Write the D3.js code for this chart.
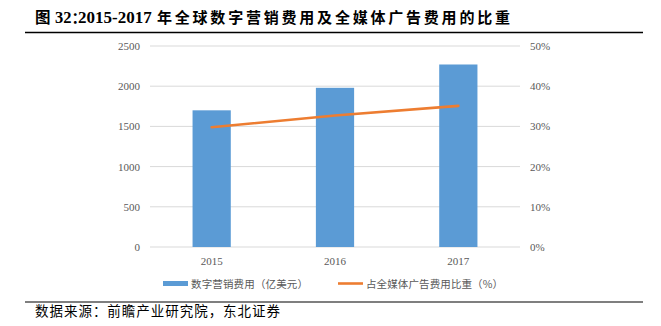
<!DOCTYPE html>
<html>
<head>
<meta charset="utf-8">
<script src="https://cdn.jsdelivr.net/npm/d3@7"></script>
<style>
  html, body { margin: 0; padding: 0; background: #fff; }
  svg { display: block; }
</style>
</head>
<body>
<svg id="chart" width="661" height="326"></svg>
<script>
// Data
const years = ["2015", "2016", "2017"];
const digitalSpend = [1700, 1980, 2270];      // 数字营销费用（亿美元）
const shareOfMedia = [0.298, 0.327, 0.351];   // 占全媒体广告费用比重
const leftTicks = [0, 500, 1000, 1500, 2000, 2500];
const rightTicks = [0, 0.1, 0.2, 0.3, 0.4, 0.5];
const titleParts = ["图", "32", "：", "2015-2017", "年全球数字营销费用及全媒体广告费用的比重"];
const sourceText = "数据来源：前瞻产业研究院，东北证券";
const legendLabels = ["数字营销费用（亿美元）", "占全媒体广告费用比重（%）"];

const svg = d3.select("#chart");
const plot = { left: 150, right: 520, top: 46, bottom: 247 };
const cjk = "'Noto Sans CJK SC', sans-serif";
const serif = "'Liberation Serif', 'Times New Roman', serif";
const tickColor = "#595959";
const barColor = "#5b9bd5";
const lineColor = "#ed7d31";

// Title: one text run, CJK in the CJK face and figures in a bold serif
const head = svg.append("text").attr("y", 23).attr("fill", "#000").attr("font-weight", "bold");
head.append("tspan").attr("x", 35)
  .attr("font-family", cjk).attr("font-size", 15.5).text(titleParts[0]);
head.append("tspan").attr("x", 55)
  .attr("font-family", serif).attr("font-size", 16.5).text(titleParts[1]);
// compressed full-width colon, as in CJK typesetting
head.append("tspan").attr("x", 71.5)
  .attr("font-family", cjk).attr("font-size", 15).attr("letter-spacing", -9)
  .text(titleParts[2]);
head.append("tspan").attr("x", 78)
  .attr("font-family", serif).attr("font-size", 17).text(titleParts[3]);
svg.append("text").attr("x", 157).attr("y", 23)
  .attr("font-family", cjk).attr("font-weight", "bold").attr("font-size", 15)
  .attr("textLength", 353).attr("lengthAdjust", "spacing")
  .text(titleParts[4]);

// Rules above and below the chart
svg.append("line")
  .attr("x1", 25).attr("x2", 643).attr("y1", 32.5).attr("y2", 32.5)
  .attr("stroke", "#000").attr("stroke-width", 1.6);
svg.append("line")
  .attr("x1", 25).attr("x2", 643).attr("y1", 302).attr("y2", 302)
  .attr("stroke", "#000").attr("stroke-width", 1.2);
svg.append("text")
  .attr("x", 35).attr("y", 316)
  .attr("font-family", cjk).attr("font-size", 13.5).attr("fill", "#000")
  .attr("textLength", 245).attr("lengthAdjust", "spacing")
  .text(sourceText);

// Scales
const x = d3.scaleBand().domain(years).range([plot.left, plot.right]).paddingInner(0.69).paddingOuter(0.345);
const yL = d3.scaleLinear().domain([0, 2500]).range([plot.bottom, plot.top]);
const yR = d3.scaleLinear().domain([0, 0.5]).range([plot.bottom, plot.top]);
const xc = d => x(d) + x.bandwidth() / 2;

// Gridlines
svg.append("g").selectAll("line").data(leftTicks).join("line")
  .attr("x1", plot.left).attr("x2", plot.right)
  .attr("y1", d => yL(d)).attr("y2", d => yL(d))
  .attr("stroke", "#d9d9d9").attr("stroke-width", 1);

// Left axis
const gL = svg.append("g").attr("transform", `translate(${plot.left - 10},0)`)
  .call(d3.axisLeft(yL).tickValues(leftTicks).tickSize(0).tickPadding(0).tickFormat(d3.format("d")));
gL.select(".domain").remove();
gL.selectAll("text").attr("font-family", serif).attr("font-size", 11).attr("fill", tickColor);

// Right axis
const gR = svg.append("g").attr("transform", `translate(${plot.right + 10},0)`)
  .call(d3.axisRight(yR).tickValues(rightTicks).tickSize(0).tickPadding(0).tickFormat(d3.format(".0%")));
gR.select(".domain").remove();
gR.selectAll("text").attr("font-family", serif).attr("font-size", 11).attr("fill", tickColor);

// Bottom axis
const gB = svg.append("g").attr("transform", `translate(0,${plot.bottom})`)
  .call(d3.axisBottom(x).tickSize(0).tickPadding(10));
gB.select(".domain").remove();
gB.selectAll("text").attr("font-family", serif).attr("font-size", 11).attr("fill", tickColor);

// Bars
svg.append("g").selectAll("rect").data(years).join("rect")
  .attr("x", d => x(d)).attr("width", x.bandwidth())
  .attr("y", (d, i) => yL(digitalSpend[i]))
  .attr("height", (d, i) => yL(0) - yL(digitalSpend[i]))
  .attr("fill", barColor);

// Line
const line = d3.line().x((d, i) => xc(years[i])).y(d => yR(d));
svg.append("path").datum(shareOfMedia)
  .attr("d", line).attr("fill", "none")
  .attr("stroke", lineColor).attr("stroke-width", 2.6).attr("stroke-linecap", "round");

// Legend
const lg = svg.append("g");
lg.append("rect").attr("x", 163).attr("y", 281).attr("width", 25).attr("height", 5).attr("fill", barColor);
lg.append("text").attr("x", 191).attr("y", 288)
  .attr("font-family", cjk).attr("font-size", 10.5).attr("fill", tickColor)
  .attr("textLength", 117).attr("lengthAdjust", "spacing").text(legendLabels[0]);
lg.append("line").attr("x1", 338).attr("x2", 363).attr("y1", 283.5).attr("y2", 283.5)
  .attr("stroke", lineColor).attr("stroke-width", 2.6);
lg.append("text").attr("x", 366).attr("y", 288)
  .attr("font-family", cjk).attr("font-size", 10.5).attr("fill", tickColor)
  .attr("textLength", 137).attr("lengthAdjust", "spacing").text(legendLabels[1]);
</script>
</body>
</html>
